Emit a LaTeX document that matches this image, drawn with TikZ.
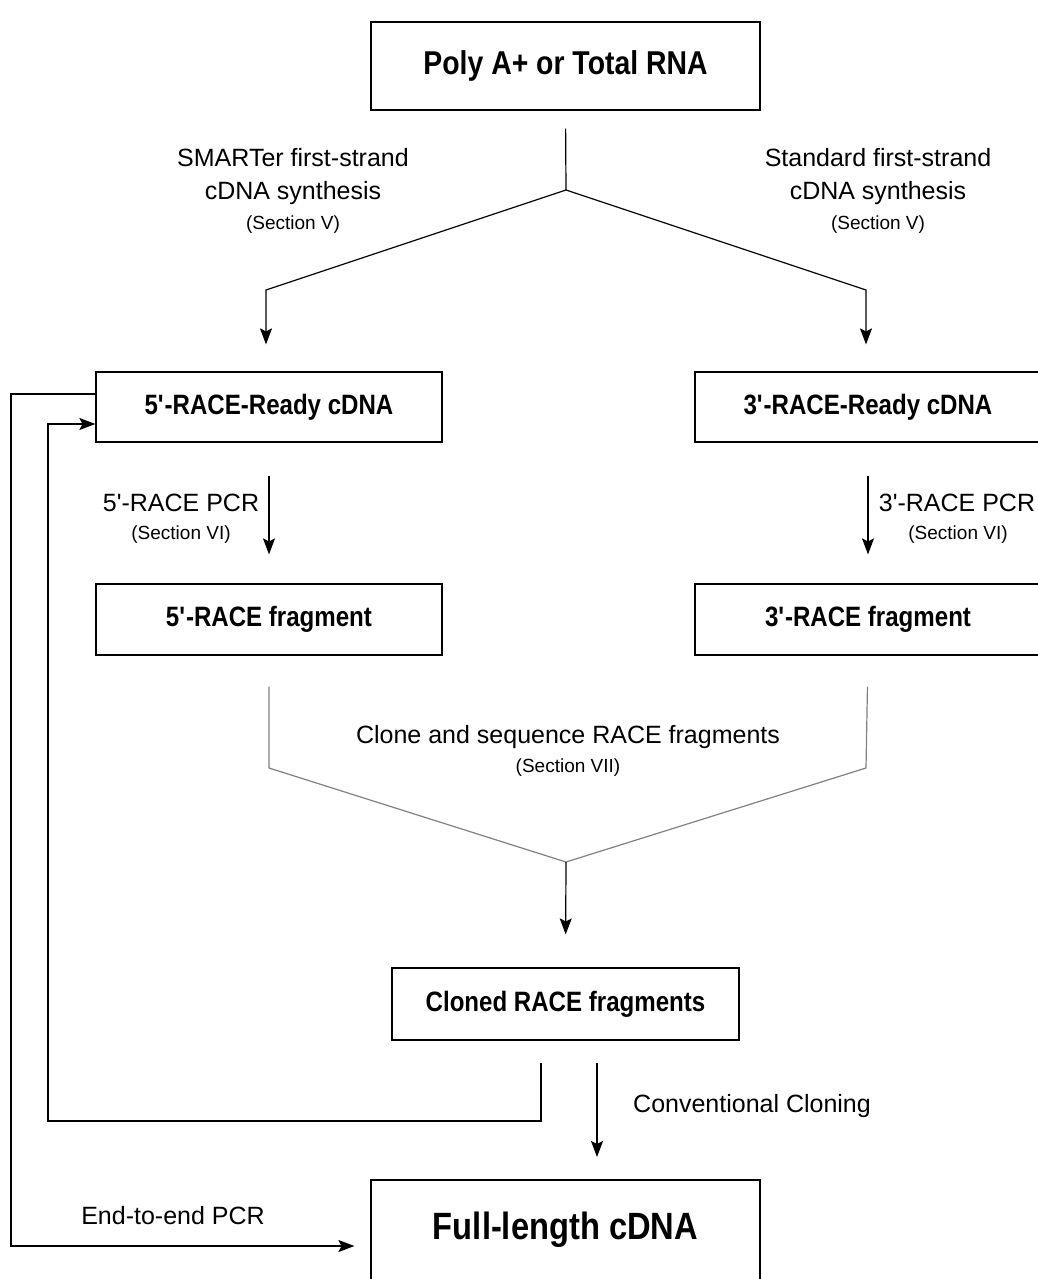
\documentclass[tikz,border=0pt]{standalone}
\usepackage{fontspec}
\setmainfont{Liberation Sans}[BoldFeatures={FakeStretch=0.86}]
\usetikzlibrary{arrows.meta}

\newcommand{\pr}{\textquotesingle}

\tikzset{
  stage/.style={draw, line width=1.2pt, minimum width=346pt, minimum height=70pt,
    inner sep=0pt, font=\bfseries\fontsize{28}{30}\selectfont},
  lbl/.style={align=center, inner sep=0pt, font=\fontsize{25}{33}\selectfont},
  sect/.style={inner sep=0pt, font=\fontsize{19}{20}\selectfont},
  link/.style={line width=1.2pt},
  arr/.style={line width=1.2pt, -{Stealth[length=16pt,width=12pt,inset=3pt]}},
}

\begin{document}
\begin{tikzpicture}[x=1pt,y=-1pt]
    \useasboundingbox (0,0) rectangle (1038,1279);

    % Boxes
    \node[stage, minimum width=389pt, minimum height=88pt, font=\bfseries\fontsize{33}{36}\selectfont]
        (rna) at (565.5,66) {Poly A+ or Total RNA};
    \node[stage] (ready5) at (269,407) {5\pr-RACE-Ready cDNA};
    \node[stage] (ready3) at (868,407) {3\pr-RACE-Ready cDNA};
    \node[stage, minimum height=71pt] (frag5) at (269,619.5) {5\pr-RACE fragment};
    \node[stage, minimum height=71pt] (frag3) at (868,619.5) {3\pr-RACE fragment};
    \node[stage, minimum width=347pt, minimum height=72pt] (cloned) at (565.5,1004) {Cloned RACE fragments};
    \node[stage, minimum width=389pt, minimum height=100pt, font=\bfseries\fontsize{38}{40}\selectfont]
        (full) at (565.5,1230) {Full-length cDNA};

    % First-strand synthesis
    \coordinate (fork) at (566,190);
    \coordinate (bendL) at (266,290);
    \coordinate (bendR) at (866,290);
    \draw[link, shorten <=18pt] (rna.south) -- (fork);
    \draw[arr, shorten >=27pt] (fork) -- (bendL) -- (bendL |- ready5.north);
    \draw[arr, shorten >=27pt] (fork) -- (bendR) -- (bendR |- ready3.north);
    \node[lbl] at (293,177) {SMARTer first-strand\\cDNA synthesis};
    \node[sect] at (293,225) {(Section V)};
    \node[lbl] at (878,177) {Standard first-strand\\cDNA synthesis};
    \node[sect] at (878,225) {(Section V)};

    % RACE PCR
    \draw[arr, shorten <=33pt, shorten >=29pt] (ready5.south) -- (frag5.north);
    \draw[arr, shorten <=33pt, shorten >=29pt] (ready3.south) -- (frag3.north);
    \node[lbl] at (181,503) {5\pr-RACE PCR};
    \node[sect] at (181,535) {(Section VI)};
    \node[lbl] at (957,503) {3\pr-RACE PCR};
    \node[sect] at (958,535) {(Section VI)};

    % Clone and sequence
    \coordinate (merge) at (566,862);
    \draw[link, gray, shorten <=31pt] (frag5.south) -- (269,768) -- (merge);
    \draw[link, gray, shorten <=31pt] (frag3.south) -- (866,768) -- (merge);
    \draw[arr, shorten >=33pt] (merge) -- (cloned.north);
    \node[lbl] at (568,737) {Clone and sequence RACE fragments};
    \node[sect] at (568,768) {(Section VII)};

    % Conventional cloning
    \coordinate (convA) at (597,1063);
    \coordinate (convB) at (597,1157);
    \draw[arr] (convA) -- (convB);
    \node[lbl, anchor=west] at (633,1106) {Conventional Cloning};

    % Loop back to 5'-RACE-Ready cDNA
    \coordinate (backA) at (541,1063);
    \draw[arr] (backA) -- (541,1121) -- (48,1121) -- (48,424) -- (ready5.west |- 0,424);

    % End-to-end PCR
    \draw[arr, shorten >=16pt] (ready5.west |- 0,394) -- (11,394) -- (11,1246) -- (full.west |- 0,1246);
    \node[lbl] at (173,1216) {End-to-end PCR};
\end{tikzpicture}
\end{document}
